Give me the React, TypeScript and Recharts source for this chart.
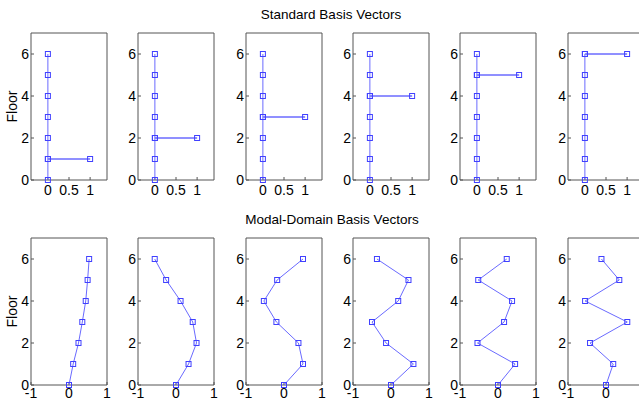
import React from 'react';
import { ScatterChart, Scatter, XAxis, YAxis } from 'recharts';

const floors = [0, 1, 2, 3, 4, 5, 6];

// each row of a basis: displacement per floor (floor 0 is the fixed base)
const standardBasis = [
  [0, 1, 0, 0, 0, 0, 0],
  [0, 0, 1, 0, 0, 0, 0],
  [0, 0, 0, 1, 0, 0, 0],
  [0, 0, 0, 0, 1, 0, 0],
  [0, 0, 0, 0, 0, 1, 0],
  [0, 0, 0, 0, 0, 0, 1],
];

const modalBasis = [
  [0, 0.11, 0.25, 0.35, 0.44, 0.49, 0.53],
  [0, 0.33, 0.54, 0.44, 0.12, -0.26, -0.56],
  [0, 0.5, 0.38, -0.2, -0.53, -0.18, 0.5],
  [0, 0.59, -0.13, -0.5, 0.19, 0.46, -0.37],
  [0, 0.45, -0.54, 0.16, 0.37, -0.52, 0.23],
  [0, 0.19, -0.42, 0.56, -0.55, 0.35, -0.12],
];

const floorTicks = [0, 2, 4, 6];
const standardTicks = [0, 0.5, 1];
const modalTicks = [-1, 0, 1];

const standardTitle = 'Standard Basis Vectors';
const modalTitle = 'Modal-Domain Basis Vectors';
const floorLabel = 'Floor';

const LINE = '#6a6aff';
const MARK = '#4040ff';
const AXIS = '#555';
const FONT = '"Liberation Sans", Arial, sans-serif';

const panelLefts = [31, 138, 246, 353, 460, 568];
const PLOT_W = 76;
const PLOT_H = 147;

// standard vectors: spine at x=0 with a stem out to the unit entry
function standardPoints(vec: number[]) {
  const pts: { x: number; y: number }[] = [];
  floors.forEach((f, i) => {
    pts.push({ x: 0, y: f });
    if (vec[i] !== 0) {
      pts.push({ x: vec[i], y: f });
      pts.push({ x: 0, y: f });
    }
  });
  return pts;
}

function modalPoints(vec: number[]) {
  return floors.map((f, i) => ({ x: vec[i], y: f }));
}

const Square = (props: any) => {
  const { cx, cy } = props;
  if (cx == null || cy == null) return null;
  return <rect x={cx - 2.5} y={cy - 2.5} width={5} height={5} fill="none" stroke={MARK} strokeWidth={1} />;
};

interface PanelProps {
  points: { x: number; y: number }[];
  xDomain: number[];
  xTicks: number[];
  left: number;
  top: number;
  labelGap: number;
}

function Panel({ points, xDomain, xTicks, left, top, labelGap }: PanelProps) {
  const tickStyle = { fill: '#000', fontSize: 14, fontFamily: FONT };
  return (
    <div style={{ position: 'absolute', left: left - 31, top: top - 5 }}>
      <ScatterChart width={31 + PLOT_W + 1 + 4} height={4 + 1 + PLOT_H + 25} margin={{ top: 4, right: 4, bottom: 0, left: 0 }}>
        <XAxis
          type="number"
          dataKey="x"
          domain={xDomain}
          ticks={xTicks}
          height={25}
          tickSize={-3}
          tickMargin={labelGap}
          axisLine={{ stroke: AXIS }}
          tickLine={{ stroke: AXIS }}
          tick={tickStyle}
          interval={0}
        />
        <XAxis
          xAxisId="t"
          orientation="top"
          type="number"
          domain={xDomain}
          ticks={xTicks}
          height={1}
          tickSize={-3}
          axisLine={{ stroke: AXIS }}
          tickLine={{ stroke: AXIS }}
          tick={false}
        />
        <YAxis
          type="number"
          dataKey="y"
          domain={[0, 7]}
          ticks={floorTicks}
          width={31}
          tickSize={-3}
          tickMargin={5}
          axisLine={{ stroke: AXIS }}
          tickLine={{ stroke: AXIS }}
          tick={tickStyle}
          interval={0}
        />
        <YAxis
          yAxisId="r"
          orientation="right"
          type="number"
          domain={[0, 7]}
          ticks={floorTicks}
          width={1}
          tickSize={-3}
          axisLine={{ stroke: AXIS }}
          tickLine={{ stroke: AXIS }}
          tick={false}
        />
        <Scatter
          data={points}
          fill="none"
          stroke={MARK}
          line={{ stroke: LINE, strokeWidth: 1 }}
          lineType="joint"
          shape={Square}
          isAnimationActive={false}
        />
      </ScatterChart>
    </div>
  );
}

export default function App() {
  return (
    <div style={{ position: 'absolute', left: 0, top: 0, width: 639, height: 400, overflow: 'hidden', background: '#fff' }}>
      {standardBasis.map((vec, i) => (
        <Panel
          key={`s${i}`}
          points={standardPoints(vec)}
          xDomain={[-0.4, 1.4]}
          xTicks={standardTicks}
          left={panelLefts[i]}
          top={33}
          labelGap={8}
        />
      ))}
      {modalBasis.map((vec, i) => (
        <Panel
          key={`m${i}`}
          points={modalPoints(vec)}
          xDomain={[-1, 1]}
          xTicks={modalTicks}
          left={panelLefts[i]}
          top={238}
          labelGap={6}
        />
      ))}
      <svg width={639} height={400} style={{ position: 'absolute', left: 0, top: 0, pointerEvents: 'none' }}>
        <text x={331} y={14} textAnchor="middle" dominantBaseline="central" fontSize={13.5} fontFamily={FONT} fill="#000">
          {standardTitle}
        </text>
        <text x={332} y={219} textAnchor="middle" dominantBaseline="central" fontSize={13.5} fontFamily={FONT} fill="#000">
          {modalTitle}
        </text>
        <text transform="translate(12,106.5) rotate(-90)" textAnchor="middle" dominantBaseline="central" fontSize={14} fontFamily={FONT} fill="#000">
          {floorLabel}
        </text>
        <text transform="translate(12,311.5) rotate(-90)" textAnchor="middle" dominantBaseline="central" fontSize={14} fontFamily={FONT} fill="#000">
          {floorLabel}
        </text>
      </svg>
    </div>
  );
}
